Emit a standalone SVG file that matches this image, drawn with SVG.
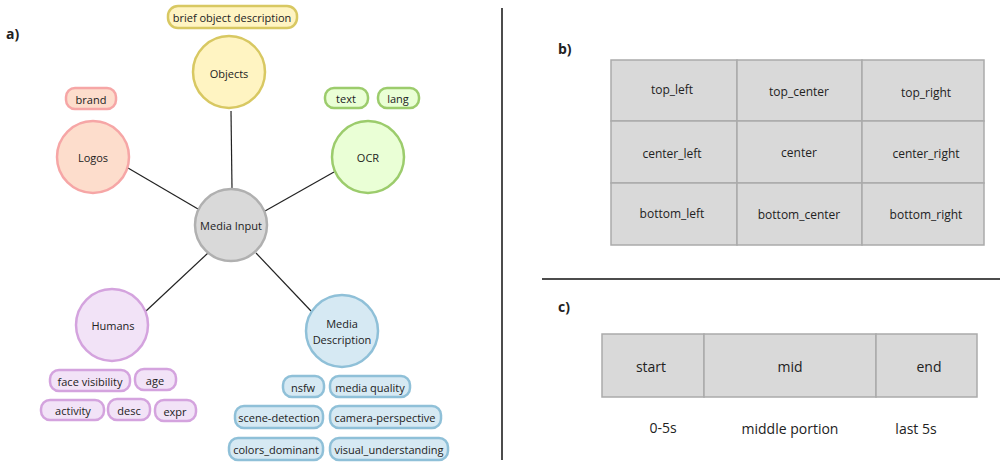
<svg xmlns="http://www.w3.org/2000/svg" width="1008" height="467" viewBox="0 0 1008 467">
<style>
text{font-family:"Open Sans","Noto Sans",sans-serif;fill:#222;text-anchor:middle;dominant-baseline:central}
.s{font-size:11px}.m{font-size:12px}.l{font-size:14px}.h{font-size:14px;font-weight:bold;text-anchor:start}
.y{fill:#fff4c2;stroke:#d8c862;stroke-width:2.5}
.r{fill:#fdddcc;stroke:#f6a6a6;stroke-width:2.5}
.g{fill:#eaffd6;stroke:#9ccc6c;stroke-width:2.5}
.gr{fill:#d9d9d9;stroke:#b0b0b0;stroke-width:2.5}
.p{fill:#f2e3f7;stroke:#d4a3de;stroke-width:2.5}
.b{fill:#d6e9f3;stroke:#8fc0d8;stroke-width:2.5}
.cell{fill:#d9d9d9;stroke:#aaa;stroke-width:1.5}
</style>
<rect width="1008" height="467" fill="#fff"/>
<text class="h" x="6" y="33">a)</text>
<text class="h" x="558" y="48">b)</text>
<text class="h" x="558" y="306">c)</text>
<line x1="502" y1="8" x2="502" y2="460" stroke="#111" stroke-width="1.5"/>
<line x1="542" y1="279" x2="1000" y2="279" stroke="#111" stroke-width="1.5"/>
<g id="connectors" stroke="#222" stroke-width="1.2">
<line x1="231" y1="111" x2="232" y2="189"/>
<line x1="128" y1="168" x2="198" y2="209"/>
<line x1="334" y1="172" x2="265" y2="211"/>
<line x1="208" y1="253" x2="146" y2="311"/>
<line x1="256" y1="253" x2="311" y2="311"/>
</g>
<g id="objects"><circle class="y" cx="229" cy="72" r="36"/><text class="s" x="229" y="73">Objects</text>
<rect class="y" x="168" y="6" width="129" height="22" rx="10"/><text class="s" x="232" y="17">brief object description</text></g>
<g id="logos"><circle class="r" cx="93" cy="157" r="36"/><text class="s" x="93" y="157">Logos</text>
<rect class="r" x="66" y="88" width="50" height="21" rx="9"/><text class="s" x="91" y="99">brand</text></g>
<g id="ocr"><circle class="g" cx="368" cy="157" r="36"/><text class="s" x="368" y="157">OCR</text>
<rect class="g" x="325" y="88" width="43" height="20" rx="9"/><text class="s" x="346" y="98">text</text>
<rect class="g" x="378" y="88" width="41" height="20" rx="9"/><text class="s" x="398" y="98">lang</text></g>
<g id="media-input"><circle class="gr" cx="231" cy="225" r="36"/><text class="s" x="231" y="225">Media Input</text></g>
<g id="humans"><circle class="p" cx="112" cy="325" r="36"/><text class="s" x="113" y="325">Humans</text>
<rect class="p" x="50" y="370" width="80" height="21" rx="9"/><text class="s" x="90" y="381">face visibility</text>
<rect class="p" x="135" y="369" width="41" height="21" rx="9"/><text class="s" x="155" y="380">age</text>
<rect class="p" x="41" y="400" width="63" height="20" rx="9"/><text class="s" x="73" y="410">activity</text>
<rect class="p" x="108" y="399" width="42" height="21" rx="9"/><text class="s" x="129" y="410">desc</text>
<rect class="p" x="155" y="400" width="41" height="21" rx="9"/><text class="s" x="175" y="411">expr</text></g>
<g id="media-description"><circle class="b" cx="342" cy="331" r="36"/><text class="s" x="342" y="323">Media</text><text class="s" x="342" y="339">Description</text>
<rect class="b" x="283" y="376" width="41" height="21" rx="9"/><text class="s" x="303" y="387">nsfw</text>
<rect class="b" x="330" y="376" width="80" height="21" rx="9"/><text class="s" x="370" y="387">media quality</text>
<rect class="b" x="235" y="406" width="88" height="22" rx="9"/><text class="s" x="279" y="417">scene-detection</text>
<rect class="b" x="330" y="406" width="111" height="22" rx="9"/><text class="s" x="385" y="417">camera-perspective</text>
<rect class="b" x="229" y="438" width="94" height="22" rx="9"/><text class="s" x="276" y="449">colors_dominant</text>
<rect class="b" x="330" y="438" width="118" height="22" rx="9"/><text class="s" x="389" y="449">visual_understanding</text></g>
<g id="grid">
<rect class="cell" x="611" y="60" width="126" height="61"/><text class="m" x="672" y="89">top_left</text>
<rect class="cell" x="737" y="60" width="125" height="61"/><text class="m" x="799" y="91">top_center</text>
<rect class="cell" x="862" y="60" width="122" height="61"/><text class="m" x="926" y="92">top_right</text>
<rect class="cell" x="611" y="121" width="126" height="62"/><text class="m" x="672" y="153">center_left</text>
<rect class="cell" x="737" y="121" width="125" height="62"/><text class="m" x="799" y="152">center</text>
<rect class="cell" x="862" y="121" width="122" height="62"/><text class="m" x="926" y="153">center_right</text>
<rect class="cell" x="611" y="183" width="126" height="62"/><text class="m" x="672" y="213">bottom_left</text>
<rect class="cell" x="737" y="183" width="125" height="62"/><text class="m" x="799" y="214">bottom_center</text>
<rect class="cell" x="862" y="183" width="122" height="62"/><text class="m" x="926" y="214">bottom_right</text>
</g>
<g id="timeline">
<rect class="cell" x="602" y="334" width="102" height="63"/><text class="l" x="651" y="366">start</text>
<rect class="cell" x="704" y="334" width="172" height="63"/><text class="l" x="790" y="366">mid</text>
<rect class="cell" x="876" y="334" width="101" height="63"/><text class="l" x="929" y="366">end</text>
<text class="l" x="663" y="427">0-5s</text>
<text class="l" x="790" y="428">middle portion</text>
<text class="l" x="916" y="428">last 5s</text>
</g>
</svg>
